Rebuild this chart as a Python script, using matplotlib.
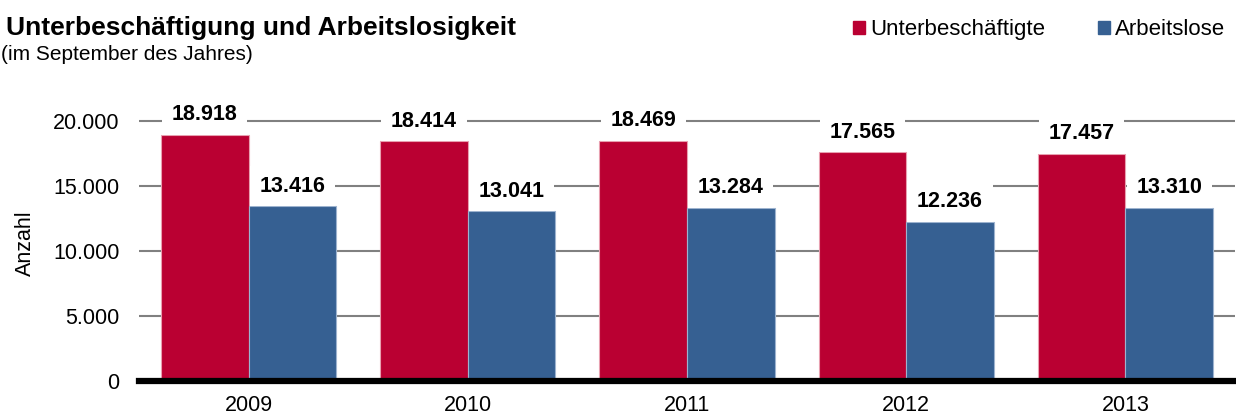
import matplotlib
matplotlib.use("Agg")
import matplotlib.pyplot as plt
import numpy as np
from matplotlib.patches import Patch

years = ["2009", "2010", "2011", "2012", "2013"]
unterbeschaeftigte = [18918, 18414, 18469, 17565, 17457]
arbeitslose = [13416, 13041, 13284, 12236, 13310]
series_names = ["Unterbeschäftigte", "Arbeitslose"]
yticks = [0, 5000, 10000, 15000, 20000]
ytick_labels = ["0", "5.000", "10.000", "15.000", "20.000"]

RED = "#BA0032"
BLUE = "#366092"

plt.rcParams['font.family'] = ['Liberation Sans', 'DejaVu Sans']

fig = plt.figure(figsize=(12.36, 4.17), dpi=100)
ax = fig.add_axes([139/1236, 36/417, (1235-139)/1236, (381-105)/417])

x = np.arange(len(years))
w = 0.4
b1 = ax.bar(x - w/2, unterbeschaeftigte, w, color=RED, edgecolor="#E8A0B0", linewidth=0.8, zorder=3)
b2 = ax.bar(x + w/2, arbeitslose, w, color=BLUE, edgecolor="#9DB3CF", linewidth=0.8, zorder=3)

ax.set_xlim(-0.5, len(years) - 0.5)
ax.set_ylim(0, 21200)
ax.set_yticks(yticks)
ax.set_yticklabels(ytick_labels, fontsize=15.5)
ax.set_xticks(x)
ax.set_xticklabels(years, fontsize=15.5)
ax.tick_params(axis='y', length=0, pad=14)
ax.tick_params(axis='x', length=0, pad=10)
ax.yaxis.grid(True, color="#808080", linewidth=1.5, zorder=0)
for s in ["top", "right", "left"]:
    ax.spines[s].set_visible(False)
ax.spines["bottom"].set_linewidth(4.5)
ax.spines["bottom"].set_color("black")
ax.spines["bottom"].set_zorder(5)
ax.set_ylabel("Anzahl", fontsize=15.5, labelpad=12)

def fmt(v):
    return f"{v:,}".replace(",", ".")

for bars, vals in ((b1, unterbeschaeftigte), (b2, arbeitslose)):
    for bar, v in zip(bars, vals):
        ax.annotate(fmt(v), (bar.get_x() + bar.get_width()/2, v),
                    xytext=(0, 14.5), textcoords="offset points",
                    ha="center", va="center", fontsize=15.5, fontweight="bold",
                    bbox=dict(boxstyle="square,pad=0.45", fc="white", ec="none"),
                    zorder=4)

fig.text(6/1236, 1 - 35/417, "Unterbeschäftigung und Arbeitslosigkeit",
         fontsize=19, fontweight="bold", ha="left", va="baseline")
fig.text(1/1236, 1 - 60/417, "(im September des Jahres)",
         fontsize=15, ha="left", va="baseline")

handles = [Patch(color=RED), Patch(color=BLUE)]
fig.legend(handles, series_names, loc="upper right", bbox_to_anchor=(1236/1236, 1 - 8/417),
           ncol=2, frameon=False, fontsize=16, handlelength=0.55, handleheight=0.55,
           handletextpad=0.2, columnspacing=2.4, borderpad=0.0)

fig.savefig("out.png", dpi=100)
